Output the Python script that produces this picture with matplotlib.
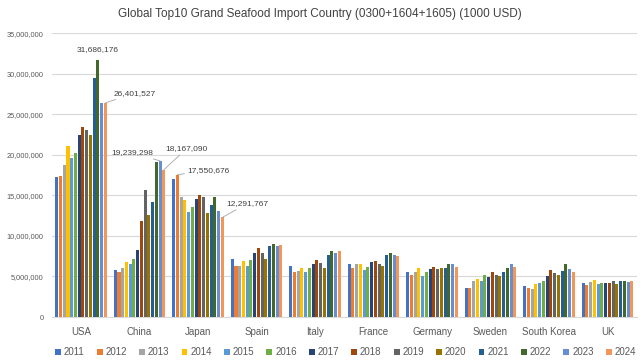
import matplotlib
matplotlib.use("Agg")
import matplotlib.pyplot as plt
import numpy as np

plt.rcParams["font.family"] = ["Liberation Sans", "DejaVu Sans"]

countries = ["USA", "China", "Japan", "Spain", "Italy", "France", "Germany",
             "Sweden", "South Korea", "UK"]
years = [str(y) for y in range(2011, 2025)]
colors = ["#4472C4", "#ED7D31", "#A5A5A5", "#FFC000", "#5B9BD5", "#70AD47", "#264478",
          "#9E480E", "#636363", "#997300", "#255E91", "#43682B", "#698ED0", "#F1975A"]

# values in millions of (1000 USD); rows = country, columns = 2011..2024
usa = [17.3, 17.4, 18.7, 21.1, 19.6, 20.2, 22.4, 23.4, 23.0, 22.5, 29.5, 31.686176, 26.4, 26.401527]
china = [5.8, 5.6, 6.1, 6.8, 6.5, 7.1, 8.3, 11.9, 15.7, 12.6, 14.2, 19.1, 19.239298, 18.16709]
japan = [17.0, 17.550676, 14.8, 14.4, 13.0, 13.6, 14.6, 15.0, 14.75, 12.8, 13.8, 14.8, 13.1, 12.291767]
spain = [7.15, 6.25, 6.3, 6.85, 6.3, 7.0, 7.85, 8.5, 7.85, 7.15, 8.75, 8.95, 8.8, 8.87]
italy = [6.25, 5.5, 5.7, 6.05, 5.5, 6.1, 6.55, 7.0, 6.65, 6.0, 7.65, 8.2, 7.9, 8.1]
france = [6.55, 6.0, 6.5, 6.55, 5.8, 6.15, 6.75, 6.95, 6.55, 6.25, 7.65, 7.9, 7.6, 7.5]
germany = [5.5, 5.2, 5.6, 6.05, 5.1, 5.6, 5.95, 6.15, 5.95, 6.05, 6.05, 6.5, 6.5, 6.15]
sweden = [3.6, 3.6, 4.45, 4.7, 4.4, 5.15, 4.9, 5.6, 5.2, 5.0, 5.6, 6.1, 6.5, 6.15]
korea = [3.85, 3.6, 3.5, 4.1, 4.25, 4.45, 5.0, 5.85, 5.4, 5.2, 5.7, 6.5, 5.95, 5.6]
uk = [4.25, 4.0, 4.3, 4.6, 4.05, 4.15, 4.15, 4.25, 4.4, 4.1, 4.4, 4.45, 4.3, 4.4]

data = np.array([usa, china, japan, spain, italy, france, germany, sweden, korea, uk]) * 1e6

fig = plt.figure(figsize=(6.4, 3.64), dpi=100)
ax = fig.add_axes([0.081, 0.129, 0.914, 0.780])

x = np.arange(len(countries))
slot = 0.064
w = 0.052
bars = []
for j, (yr, c) in enumerate(zip(years, colors)):
    off = (j - (len(years) - 1) / 2) * slot
    b = ax.bar(x + off, data[:, j], w, color=c, label=yr, zorder=3)
    bars.append(b)

ax.set_xlim(-0.5, len(countries) - 0.5)
ax.set_ylim(0, 35e6)
ax.set_yticks(np.arange(0, 35e6 + 1, 5e6))
ax.yaxis.set_major_formatter(lambda v, _: f"{int(v):,}")
ax.set_xticks(x)
ax.set_xticklabels(countries)
ax.tick_params(axis="y", length=0, labelsize=5.3, colors="#595959", pad=6)
ax.tick_params(axis="x", length=0, labelsize=7, colors="#595959", pad=7)
ax.grid(axis="y", color="#D9D9D9", lw=0.8, zorder=0)
for s in ["top", "right", "left"]:
    ax.spines[s].set_visible(False)
ax.spines["bottom"].set_color("#D9D9D9")

fig.text(0.5, 0.962, "Global Top10 Grand Seafood Import Country (0300+1604+1605) (1000 USD)",
         ha="center", va="center", fontsize=8.5, color="#404040")


def label(ci, yi, dx, dy, ha="left", line=True):
    b = bars[yi][ci]
    bx = b.get_x() + b.get_width() / 2
    by = b.get_height()
    txt = f"{int(round(by)):,}"
    if line:
        ax.annotate(txt, xy=(bx, by), xytext=(dx, dy), textcoords="offset points",
                    ha=ha, va="center", fontsize=6, color="#404040",
                    arrowprops=dict(arrowstyle="-", color="#A6A6A6", lw=0.6,
                                    shrinkA=0, shrinkB=0))
    else:
        ax.annotate(txt, xy=(bx, by), xytext=(dx, dy), textcoords="offset points",
                    ha=ha, va="bottom", fontsize=6, color="#404040")


label(0, 11, 0, 5, ha="center", line=False)
label(0, 13, 6, 7)
label(1, 12, -5, 6, ha="right")
label(1, 13, 1, 15)
label(2, 1, 7, 3)
label(2, 13, 3, 10)

fig.legend(handles=bars, labels=years, loc="lower center", ncol=14,
           bbox_to_anchor=(0.54, -0.005), frameon=False, fontsize=7,
           handlelength=0.6, handleheight=0.6, handletextpad=0.3,
           columnspacing=1.25, labelcolor="#595959")

fig.savefig("out.png", dpi=100)
